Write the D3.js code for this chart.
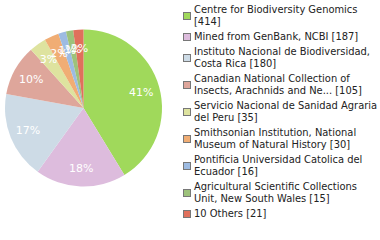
<!DOCTYPE html>
<html>
<head>
<meta charset="utf-8">
<script src="https://cdn.jsdelivr.net/npm/d3@7"></script>
<style>
  body { margin: 0; background: #fff; }
</style>
</head>
<body>
<div id="chart"></div>
<script>
// Data
const labels = [
  ["Centre for Biodiversity Genomics", "[414]"],
  ["Mined from GenBank, NCBI [187]"],
  ["Instituto Nacional de Biodiversidad,", "Costa Rica [180]"],
  ["Canadian National Collection of", "Insects, Arachnids and Ne... [105]"],
  ["Servicio Nacional de Sanidad Agraria", "del Peru [35]"],
  ["Smithsonian Institution, National", "Museum of Natural History [30]"],
  ["Pontificia Universidad Catolica del", "Ecuador [16]"],
  ["Agricultural Scientific Collections", "Unit, New South Wales [15]"],
  ["10 Others [21]"]
];
const counts = [414, 187, 180, 105, 35, 30, 16, 15, 21];
const colors = ["#a0d95b", "#ddbcdd", "#cddbe6", "#dea69b", "#dee39f", "#f0ad74", "#9dbbe2", "#9dc27b", "#e0705c"];

const width = 380, height = 240;
const cx = 83.5, cy = 108, radius = 78.5;

const svg = d3.select("#chart")
  .append("svg")
  .attr("width", width)
  .attr("height", height);

const total = d3.sum(counts);

const pie = d3.pie().sort(null).value((d) => d);
const arc = d3.arc().innerRadius(0).outerRadius(radius);
const labelArc = d3.arc().innerRadius(60).outerRadius(60);

const g = svg.append("g")
  .attr("transform", "translate(" + cx + "," + cy + ")");

const arcs = pie(counts);

// Slices
g.selectAll("path")
  .data(arcs)
  .enter()
  .append("path")
  .attr("d", arc)
  .attr("fill", (d, i) => colors[i]);

// Percent labels
g.selectAll(".pct")
  .data(arcs)
  .enter()
  .append("text")
  .attr("class", "pct")
  .attr("transform", (d) => "translate(" + labelArc.centroid(d) + ")")
  .attr("text-anchor", "middle")
  .attr("dy", "0.35em")
  .style("font-family", "DejaVu Sans, sans-serif")
  .style("font-size", "11px")
  .style("fill", "#fff")
  .text((d) => Math.floor(d.value / total * 100) + "%");

// Legend
const legend = svg.append("g");
let y = 13;
const lineH = 12, gap = 3;
labels.forEach((lines, i) => {
  const blockTop = y - 9;
  const blockH = lines.length * lineH;
  legend.append("rect")
    .attr("x", 183.5)
    .attr("y", Math.round(blockTop + blockH / 2 - 4) + 0.5)
    .attr("width", 7)
    .attr("height", 7)
    .attr("fill", colors[i])
    .attr("stroke", "#777")
    .attr("stroke-width", 1);
  lines.forEach((t, j) => {
    legend.append("text")
      .attr("x", 194)
      .attr("y", y + j * lineH)
      .style("font-family", "DejaVu Sans Condensed, sans-serif")
      .style("font-size", "11px")
      .style("fill", "#222")
      .text(t);
  });
  y += lines.length * lineH + gap;
});
</script>
</body>
</html>
